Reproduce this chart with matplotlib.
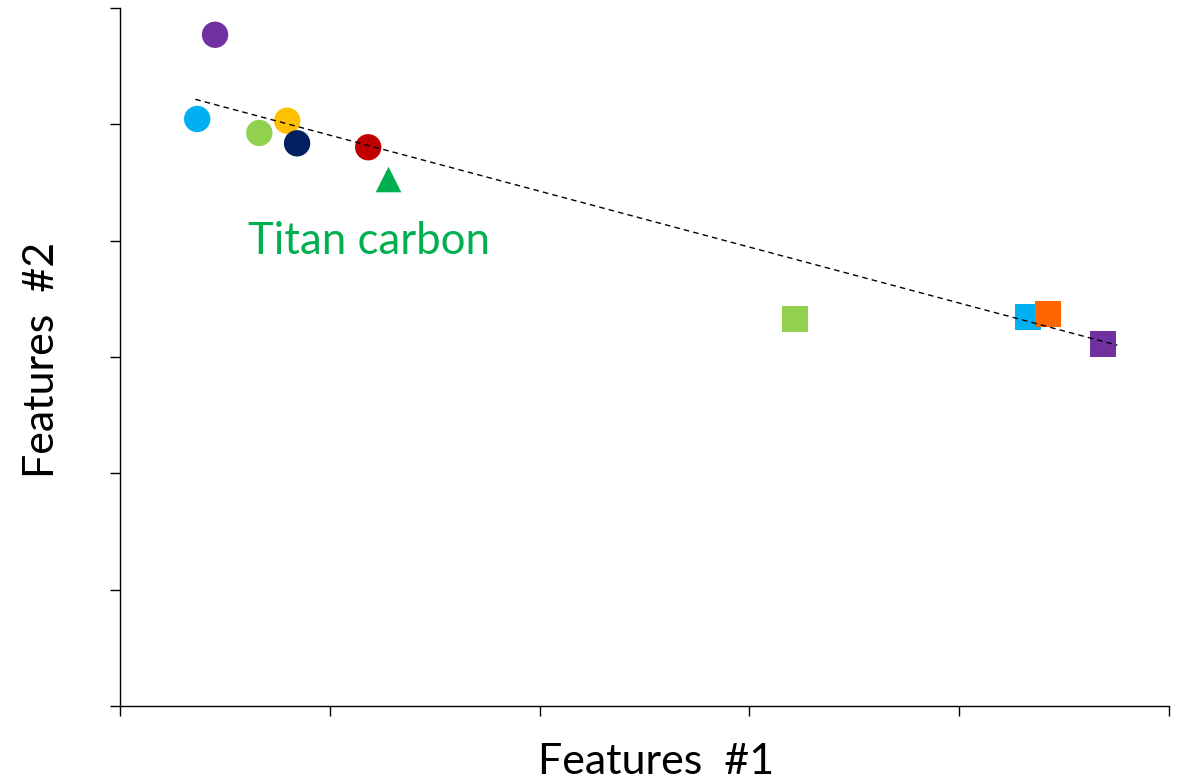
import matplotlib.pyplot as plt

# circles (first group)
circle_x = [0.453, 0.368, 0.664, 0.797, 0.844, 1.183]
circle_y = [5.77, 5.046, 4.926, 5.031, 4.837, 4.803]
circle_colors = ["#7030A0", "#00B0F0", "#92D050", "#FFC000", "#002060", "#C00000"]

# squares (second group)
square_x = [3.216, 4.328, 4.423, 4.685]
square_y = [3.327, 3.344, 3.370, 3.112]
square_colors = ["#92D050", "#00B0F0", "#FF6600", "#7030A0"]

# Titan carbon
titan_x = [1.279]
titan_y = [4.526]

# trend line end points
trend_x = [0.359, 4.754]
trend_y = [5.215, 3.101]

plt.rcParams["font.family"] = ["Lato", "DejaVu Sans"]

fig = plt.figure(figsize=(11.79, 7.83), dpi=100)
ax = fig.add_axes([120 / 1179, 1 - 706 / 783, 1049 / 1179, 698 / 783])

ax.scatter(circle_x, circle_y, s=360, c=circle_colors, marker="o", linewidths=0, zorder=2)
ax.scatter(square_x, square_y, s=350, c=square_colors, marker="s", linewidths=0, zorder=2)
ax.scatter(titan_x, titan_y, s=340, c="#00B050", marker="^", linewidths=0, zorder=2)
ax.plot(trend_x, trend_y, color="black", linewidth=1.0, linestyle=(0, (4, 3)), zorder=3)

ax.text(0.61, 3.886, "Titan carbon", color="#00B050", fontsize=31.5,
        ha="left", va="baseline")

ax.set_xlim(0, 5)
ax.set_ylim(0, 6)
ax.set_xticks(range(0, 6))
ax.set_yticks(range(0, 7))
ax.set_xticklabels([])
ax.set_yticklabels([])
ax.tick_params(axis="x", direction="out", length=7, width=1)
ax.tick_params(axis="y", direction="out", length=7, width=1)
for side in ["top", "right"]:
    ax.spines[side].set_visible(False)
for side in ["left", "bottom"]:
    ax.spines[side].set_linewidth(1.0)

fig.text(656 / 1179, 1 - 762 / 783, "Features  #1", fontsize=31, ha="center", va="center")
fig.text(42 / 1179, 1 - 360 / 783, "Features  #2", fontsize=31, ha="center", va="center",
         rotation=90)

fig.savefig("out.png", dpi=100)
